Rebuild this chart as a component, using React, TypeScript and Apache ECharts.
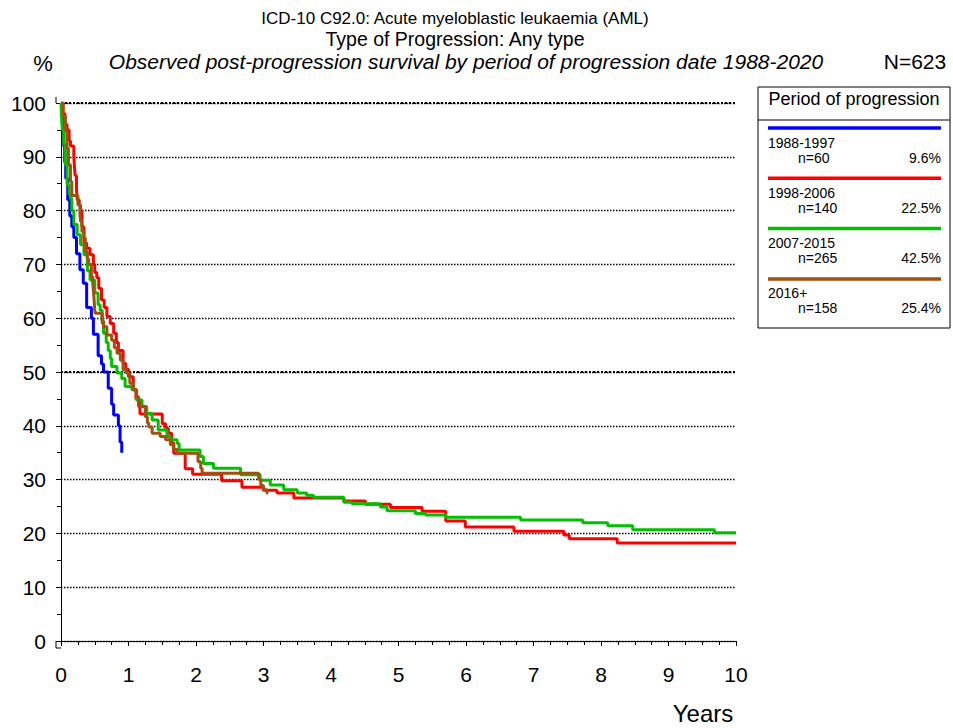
import React, { useEffect, useRef } from "react";
import * as echarts from "echarts";

const titleLines = [
  "ICD-10 C92.0: Acute myeloblastic leukaemia (AML)",
  "Type of Progression: Any type",
  "Observed post-progression survival by period of progression date 1988-2020",
];
const totalN = "N=623";
const legendTitle = "Period of progression";
const groupNames = ["1988-1997", "1998-2006", "2007-2015", "2016+"];
const groupN = ["n=60", "n=140", "n=265", "n=158"];
const groupPct = ["9.6%", "22.5%", "42.5%", "25.4%"];
const groupColors = ["#0000ff", "#ff0000", "#00c000", "#a0500f"];

const blue: number[][] = [
  [0, 100], [0.02, 96], [0.04, 92], [0.055, 89], [0.07, 86], [0.1, 82], [0.13, 79],
  [0.16, 77], [0.19, 75], [0.23, 72], [0.28, 69], [0.33, 66.5], [0.38, 62], [0.45, 60],
  [0.48, 57], [0.55, 53], [0.6, 51.5], [0.63, 50], [0.7, 47], [0.75, 44], [0.78, 42],
  [0.85, 40], [0.875, 37], [0.9, 35],
];
const red: number[][] = [
  [0, 100], [0.03, 98], [0.06, 96], [0.09, 95], [0.12, 93], [0.14, 92], [0.19, 90],
  [0.2, 88], [0.21, 86.5], [0.23, 84], [0.24, 82], [0.27, 81], [0.29, 80], [0.31, 77],
  [0.34, 74], [0.38, 73], [0.43, 71.8], [0.48, 70], [0.5, 68.5], [0.53, 67.5], [0.56, 65.5],
  [0.6, 63.4], [0.64, 62], [0.68, 60.3], [0.73, 59], [0.78, 57.2], [0.82, 55.5], [0.85, 54],
  [0.92, 51.6], [0.96, 50.5], [1.0, 49.1], [1.07, 46.7], [1.11, 45], [1.15, 43.6],
  [1.17, 42.2], [1.5, 40.4], [1.55, 39.5], [1.59, 38.6], [1.64, 36.8], [1.67, 34.9],
  [1.84, 32], [1.95, 31], [2.38, 29.8], [2.68, 28.6], [3.0, 28], [3.2, 27.5], [3.45, 26.6],
  [4.19, 26.0], [4.51, 25.4], [4.88, 24.8], [5.35, 24.1], [5.7, 22.3], [5.99, 21.2],
  [6.71, 20.4], [7.45, 19.7], [7.53, 19.0], [8.24, 18.2], [10, 18.2],
];
const green: number[][] = [
  [0, 100], [0.01, 97], [0.02, 95], [0.04, 92.3], [0.065, 88.5], [0.09, 84.8], [0.12, 83],
  [0.14, 82.3], [0.16, 80], [0.19, 77.4], [0.24, 75.5], [0.29, 73.7], [0.34, 71.8],
  [0.39, 68.8], [0.43, 67.1], [0.5, 64.7], [0.55, 62.5], [0.58, 61.5], [0.61, 59],
  [0.63, 57.2], [0.67, 55.5], [0.7, 54], [0.73, 52.5], [0.75, 51], [0.83, 49.8], [0.9, 48.8],
  [0.95, 47.3], [1.05, 46.7], [1.12, 44.8], [1.2, 43.6], [1.27, 42.3], [1.35, 41.1],
  [1.44, 39.2], [1.57, 38], [1.62, 37.4], [1.72, 36.7], [1.75, 35.5], [2.06, 34.3],
  [2.11, 33], [2.26, 32.1], [2.66, 30.9], [2.95, 29.9], [3.1, 29], [3.3, 28.1], [3.5, 27.5],
  [3.64, 27.1], [3.74, 26.7], [4.19, 25.8], [4.31, 25.5], [4.73, 24.9], [4.83, 24.2],
  [5.25, 23.7], [5.4, 23.4], [5.7, 23], [6.81, 22.5], [7.73, 22], [8.1, 21.4], [8.47, 20.7],
  [9.68, 20.1], [10, 20.1],
];
const brown: number[][] = [
  [0, 100], [0.03, 97.5], [0.065, 94.8], [0.09, 91.6], [0.11, 88.5], [0.14, 85.4],
  [0.16, 82.8], [0.25, 81.1], [0.28, 79.5], [0.29, 78], [0.31, 76.1], [0.34, 74.9],
  [0.36, 72.4], [0.39, 71], [0.41, 70], [0.45, 67.7], [0.47, 66.5], [0.48, 65.2],
  [0.49, 63.5], [0.5, 61.5], [0.51, 60.9], [0.61, 59.5], [0.63, 58.4], [0.68, 56.9],
  [0.75, 55.9], [0.79, 54.5], [0.83, 53.5], [0.88, 52.2], [0.92, 50.4], [0.97, 49.8],
  [1.02, 47.9], [1.07, 46.7], [1.12, 45.4], [1.15, 44.5], [1.17, 43.6], [1.25, 41.7],
  [1.28, 40.5], [1.3, 39.8], [1.35, 38.6], [1.47, 38], [1.55, 37.4], [1.62, 36.5],
  [1.67, 35.6], [1.72, 34.9], [2.03, 33.3], [2.07, 32.1], [2.09, 31.2], [2.93, 30],
  [2.96, 28.9], [3.0, 28.1], [3.05, 27.5], [3.07, 27.5],
];
const seriesData = [blue, red, green, brown];
const boldGridValues = [50, 100];

const FONT = "'Liberation Sans', Arial, sans-serif";

export default function App() {
  const ref = useRef<HTMLDivElement>(null);
  useEffect(() => {
    if (!ref.current) return;
    const chart = echarts.init(ref.current, null, { renderer: "svg" });

    const legendX = 758, legendY = 87, legendW = 192, legendH = 241;
    const legendEls: any[] = [
      {
        type: "rect",
        shape: { x: legendX, y: legendY, width: legendW, height: legendH },
        style: { fill: "#fff", stroke: "#000", lineWidth: 1 },
      },
      {
        type: "text",
        x: legendX + legendW / 2,
        y: 99,
        style: { text: legendTitle, fill: "#000", font: `18px ${FONT}`, align: "center", verticalAlign: "middle" },
      },
      {
        type: "line",
        shape: { x1: legendX, y1: 120, x2: legendX + legendW, y2: 120 },
        style: { stroke: "#000", lineWidth: 1 },
      },
    ];
    groupNames.forEach((name, i) => {
      const ly = 128 + 50.3 * i;
      legendEls.push(
        {
          type: "line",
          shape: { x1: 768, y1: ly, x2: 941, y2: ly },
          style: { stroke: groupColors[i], lineWidth: 3.5 },
        },
        {
          type: "text",
          x: 768,
          y: ly + 14.5,
          style: { text: name, fill: "#000", font: `14px ${FONT}`, align: "left", verticalAlign: "middle" },
        },
        {
          type: "text",
          x: 798,
          y: ly + 29.5,
          style: { text: groupN[i], fill: "#000", font: `14px ${FONT}`, align: "left", verticalAlign: "middle" },
        },
        {
          type: "text",
          x: 941,
          y: ly + 29.5,
          style: { text: groupPct[i], fill: "#000", font: `14px ${FONT}`, align: "right", verticalAlign: "middle" },
        }
      );
    });

    const option: any = {
      animation: false,
      backgroundColor: "#fff",
      grid: { left: 61, right: 217, top: 103, bottom: 87, containLabel: false },
      xAxis: {
        type: "value",
        min: 0,
        max: 10,
        interval: 1,
        offset: 7,
        axisLine: { show: true, lineStyle: { color: "#000", width: 1 } },
        axisTick: { show: true, length: 5, lineStyle: { color: "#000" } },
        minorTick: { show: true, splitNumber: 4, length: 4, lineStyle: { color: "#000" } },
        axisLabel: { color: "#000", fontSize: 21, fontFamily: FONT, margin: 16 },
        splitLine: { show: false },
      },
      yAxis: {
        type: "value",
        min: 0,
        max: 100,
        interval: 10,
        offset: 5,
        axisLine: { show: true, lineStyle: { color: "#000", width: 1 } },
        axisTick: { show: true, length: 5, lineStyle: { color: "#000" } },
        minorTick: { show: true, splitNumber: 2, length: 4, lineStyle: { color: "#000" } },
        axisLabel: { color: "#000", fontSize: 21, fontFamily: FONT, margin: 10 },
        splitLine: { show: true, lineStyle: { color: "#000", type: [1.5, 1.5], width: 1.4 } },
      },
      series: [
        {
          type: "line",
          data: [],
          silent: true,
          z: 1,
          markLine: {
            symbol: "none",
            silent: true,
            label: { show: false },
            lineStyle: { color: "#000", type: [2, 2], width: 2.2 },
            data: boldGridValues.map((v) => ({ yAxis: v })),
          },
        },
        ...seriesData.map((d, i) => ({
          type: "line",
          name: groupNames[i],
          data: d,
          step: "end",
          showSymbol: false,
          symbol: "none",
          z: 3 + i,
          lineStyle: { color: groupColors[i], width: 3 },
        })),
      ],
      graphic: [
        {
          type: "text",
          x: 455,
          y: 18,
          style: { text: titleLines[0], fill: "#000", font: `17px ${FONT}`, align: "center", verticalAlign: "middle" },
        },
        {
          type: "text",
          x: 455,
          y: 39,
          style: { text: titleLines[1], fill: "#000", font: `19.5px ${FONT}`, align: "center", verticalAlign: "middle" },
        },
        {
          type: "text",
          x: 466,
          y: 61,
          style: { text: titleLines[2], fill: "#000", font: `italic 21px ${FONT}`, align: "center", verticalAlign: "middle" },
        },
        {
          type: "text",
          x: 43,
          y: 63,
          style: { text: "%", fill: "#000", font: `22px ${FONT}`, align: "center", verticalAlign: "middle" },
        },
        {
          type: "text",
          x: 915,
          y: 61,
          style: { text: totalN, fill: "#000", font: `21px ${FONT}`, align: "center", verticalAlign: "middle" },
        },
        {
          type: "text",
          x: 703,
          y: 713,
          style: { text: "Years", fill: "#000", font: `24px ${FONT}`, align: "center", verticalAlign: "middle" },
        },
        {
          type: "polyline",
          shape: { points: [[56, 97], [56, 103]] },
          style: { stroke: "#000", lineWidth: 1, fill: null },
        },
        {
          type: "polyline",
          shape: { points: [[56, 641], [56, 648], [61, 648]] },
          style: { stroke: "#000", lineWidth: 1, fill: null },
        },
        ...legendEls,
      ],
    };
    chart.setOption(option);
    return () => chart.dispose();
  }, []);
  return <div ref={ref} style={{ width: 953, height: 728, position: "absolute", left: 0, top: 0 }} />;
}
